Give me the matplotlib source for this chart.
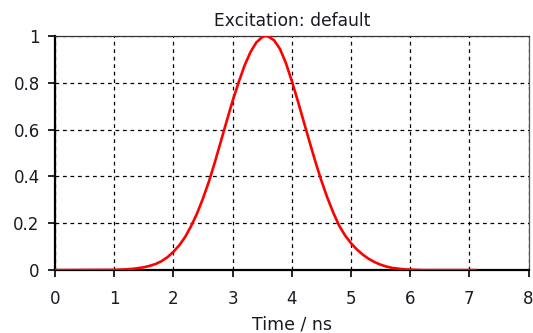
import matplotlib
matplotlib.use("Agg")
import matplotlib.pyplot as plt

# excitation signal
time_ns = [0.0, 1.0, 1.1, 1.2, 1.3, 1.4, 1.5, 1.6, 1.7, 1.8, 1.9, 2.0, 2.1, 2.2,
           2.3, 2.4, 2.5, 2.6, 2.7, 2.8, 2.9, 3.0, 3.1, 3.2, 3.3, 3.4, 3.5,
           3.55, 3.6, 3.7, 3.8, 3.9, 4.0, 4.1, 4.2, 4.3, 4.4, 4.5, 4.6, 4.7,
           4.8, 4.9, 5.0, 5.1, 5.2, 5.3, 5.4, 5.5, 5.6, 5.7, 5.8, 5.9, 6.0,
           6.2, 7.1]
amplitude = [0.0, 0.001, 0.002, 0.003, 0.005, 0.008, 0.012, 0.018, 0.026, 0.038,
             0.055, 0.078, 0.106, 0.142, 0.188, 0.242, 0.306, 0.378, 0.46,
             0.548, 0.636, 0.722, 0.80, 0.872, 0.93, 0.972, 0.995, 1.0, 0.998,
             0.982, 0.945, 0.885, 0.808, 0.724, 0.636, 0.548, 0.462, 0.382,
             0.31, 0.246, 0.19, 0.148, 0.115, 0.088, 0.066, 0.048, 0.034,
             0.023, 0.015, 0.009, 0.006, 0.003, 0.002, 0.0, 0.0]

xticks = [0, 1, 2, 3, 4, 5, 6, 7, 8]
yticks = [0, 0.2, 0.4, 0.6, 0.8, 1]
ylabels = ["0", "0.2", "0.4", "0.6", "0.8", "1"]

plt.rcParams['font.family'] = ['DejaVu Sans']
txt = '#1a1a22'

fig = plt.figure(figsize=(5.33, 3.33), dpi=100)
ax = fig.add_axes([0.1032, 0.189, 0.8884, 0.703])

ax.plot(time_ns, amplitude, color='#ff0000', linewidth=1.9, zorder=3)

ax.set_xlim(0, 8)
ax.set_ylim(0, 1)
ax.set_xticks(xticks)
ax.set_yticks(yticks)
ax.set_yticklabels(ylabels)

# grid
ax.grid(True, color='black', linestyle=(0, (3, 3)), linewidth=0.9)
ax.set_axisbelow(True)

# spines
ax.spines['left'].set_linewidth(1.6)
ax.spines['bottom'].set_linewidth(1.6)
ax.spines['top'].set_linewidth(0.9)
ax.spines['right'].set_linewidth(0.9)
ax.spines['top'].set_color('#333333')
ax.spines['right'].set_color('#555555')

ax.tick_params(axis='both', direction='out', length=5, width=1.2,
               labelsize=12, labelcolor=txt)
ax.tick_params(axis='x', pad=9)
ax.tick_params(axis='y', pad=6)

ax.set_title('Excitation: default', fontsize=12.3, color=txt, pad=7)
ax.set_xlabel('Time / ns', fontsize=12.5, color=txt, labelpad=6)

fig.savefig('out.png', dpi=100)
